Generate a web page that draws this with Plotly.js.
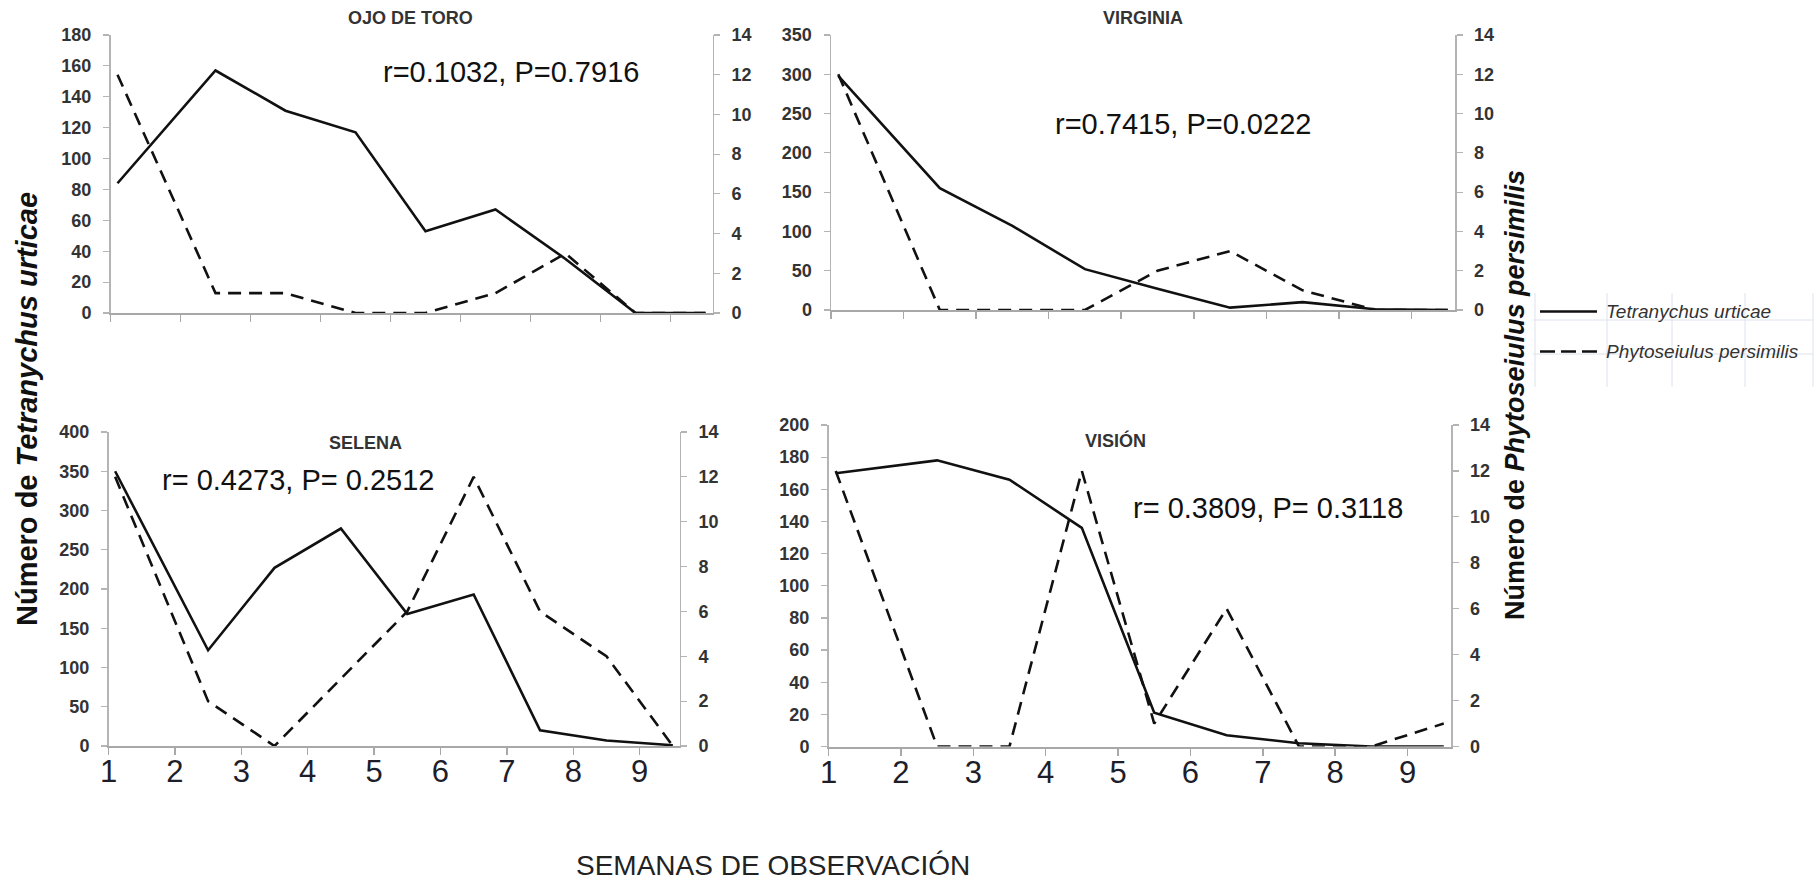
<!DOCTYPE html>
<html>
<head>
<meta charset="utf-8">
<script src="https://cdn.plot.ly/plotly-3.0.1.min.js"></script>
<style>
html,body{margin:0;padding:0;background:#fff;}
#chart{width:1820px;height:887px;}
</style>
</head>
<body>
<div id="chart"></div>
<script>
// ---- data ----
var semanaX = [1.1, 2.5, 3.5, 4.5, 5.5, 6.5, 7.5, 8.5, 9.5];
var tickVals = [1, 2, 3, 4, 5, 6, 7, 8, 9];
var tickText = ['1', '2', '3', '4', '5', '6', '7', '8', '9'];

var panelNames = ['OJO DE TORO', 'VIRGINIA', 'SELENA', 'VISIÓN'];
var statTexts = ['r=0.1032, P=0.7916', 'r=0.7415, P=0.0222', 'r= 0.4273, P= 0.2512', 'r= 0.3809, P= 0.3118'];

var ojoTetra = [84, 157, 131, 117, 53, 67, 35, 0, 0];
var ojoPhyto = [12, 1, 1, 0, 0, 1, 3, 0, 0];
var virTetra = [298, 155, 107, 52, 27, 3, 10, 1, 0];
var virPhyto = [12, 0, 0, 0, 2, 3, 1, 0, 0];
var selTetra = [350, 122, 227, 277, 168, 193, 20, 7, 1];
var selPhyto = [12, 2, 0, 3, 6, 12, 6, 4, 0];
var visTetra = [170, 178, 166, 136, 21, 7, 2, 0, 0];
var visPhyto = [12, 0, 0, 12, 1, 6, 0, 0, 1];

var leftMax = [180, 350, 400, 200];
var leftStep = [20, 50, 50, 20];
var rightMax = 14, rightStep = 2;

var seriesNames = ['Tetranychus urticae', 'Phytoseiulus persimilis'];

// ---- layout helpers ----
var W = 1820, H = 887;
function px(x) { return x / W; }
function py(y) { return 1 - y / H; }

// plot areas in pixels: [x0, x1, yTop, yBottom]
var boxes = [
  [110.5, 712.5, 35, 313],
  [831, 1455, 35, 310],
  [108.5, 679.5, 432, 746],
  [828.5, 1451, 425, 746.5]
];
var titlePos = [[410, 18], [1143, 18], [365, 443], [1115, 440]];
var statPos = [[511, 72], [1183, 124], [298, 480], [1268, 508]];

var tetraData = [ojoTetra, virTetra, selTetra, visTetra];
var phytoData = [ojoPhyto, virPhyto, selPhyto, visPhyto];

var FONT = 'Liberation Sans, Arial, sans-serif';
var axisColor = '#b4b4b4';
var tickLblFont = {family: FONT, size: 18, color: '#333', weight: 700};

var traces = [];
var layout = {
  width: W, height: H,
  margin: {l: 0, r: 0, t: 0, b: 0},
  paper_bgcolor: '#fff', plot_bgcolor: 'rgba(0,0,0,0)',
  showlegend: false,
  font: {family: FONT, color: '#222'},
  annotations: [], shapes: []
};

for (var i = 0; i < 4; i++) {
  var b = boxes[i];
  var xa = i === 0 ? 'x' : 'x' + (i + 1);
  var yl = 'y' + (2 * i + 1 === 1 ? '' : (2 * i + 1));
  var yr = 'y' + (2 * i + 2);
  var xKey = 'xaxis' + (i === 0 ? '' : (i + 1));
  var ylKey = 'yaxis' + (2 * i + 1 === 1 ? '' : (2 * i + 1));
  var yrKey = 'yaxis' + (2 * i + 2);
  var bottom = i >= 2;

  layout[xKey] = {
    domain: [px(b[0]), px(b[1])],
    anchor: yl,
    range: [1, 9.6],
    tickvals: tickVals, ticktext: tickText,
    ticks: 'outside', ticklen: 7, tickwidth: 1.5, tickcolor: '#a8a8a8',
    showticklabels: bottom,
    tickfont: {family: FONT, size: 31, color: '#1e1e2a'},
    ticklabelstandoff: -10,
    showline: true, linecolor: '#a8a8a8', linewidth: 2,
    showgrid: false, zeroline: false, layer: 'below traces', fixedrange: true
  };
  layout[ylKey] = {
    domain: [py(b[3]), py(b[2])],
    anchor: xa,
    range: [0, leftMax[i]], dtick: leftStep[i], tick0: 0,
    ticks: 'outside', ticklen: 6, tickwidth: 1.2, tickcolor: axisColor,
    tickfont: tickLblFont, ticklabelstandoff: 8,
    showline: true, linecolor: axisColor, linewidth: 1.5,
    showgrid: false, zeroline: false, layer: 'below traces', fixedrange: true
  };
  layout[yrKey] = {
    overlaying: yl, side: 'right', anchor: xa,
    range: [0, rightMax], dtick: rightStep, tick0: 0,
    ticks: 'outside', ticklen: 6, tickwidth: 1.2, tickcolor: axisColor,
    tickfont: tickLblFont, ticklabelstandoff: 8,
    showline: true, linecolor: axisColor, linewidth: 1.5,
    showgrid: false, zeroline: false, layer: 'below traces', fixedrange: true
  };

  traces.push({
    type: 'scatter', mode: 'lines', x: semanaX, y: tetraData[i],
    xaxis: xa, yaxis: yl, name: seriesNames[0], cliponaxis: false,
    line: {color: '#111', width: 2.6}
  });
  traces.push({
    type: 'scatter', mode: 'lines', x: semanaX, y: phytoData[i],
    xaxis: xa, yaxis: yr, name: seriesNames[1], cliponaxis: false,
    line: {color: '#111', width: 2.6, dash: '13px,8px'}
  });

  layout.annotations.push({
    text: '<b>' + panelNames[i] + '</b>', xref: 'paper', yref: 'paper',
    x: px(titlePos[i][0]), y: py(titlePos[i][1]), showarrow: false,
    xanchor: 'center', yanchor: 'middle',
    font: {family: FONT, size: 18, color: '#333'}
  });
  layout.annotations.push({
    text: statTexts[i], xref: 'paper', yref: 'paper',
    x: px(statPos[i][0]), y: py(statPos[i][1]), showarrow: false,
    xanchor: 'center', yanchor: 'middle',
    font: {family: FONT, size: 29, color: '#111'}
  });
}

// axis titles
layout.annotations.push({
  text: '<b>Número de <i>Tetranychus urticae</i></b>', xref: 'paper', yref: 'paper',
  x: px(27), y: py(409), textangle: -90, showarrow: false,
  xanchor: 'center', yanchor: 'middle',
  font: {family: FONT, size: 29, color: '#111'}
});
layout.annotations.push({
  text: '<b>Número de <i>Phytoseiulus persimilis</i></b>', xref: 'paper', yref: 'paper',
  x: px(1515), y: py(395), textangle: -90, showarrow: false,
  xanchor: 'center', yanchor: 'middle',
  font: {family: FONT, size: 27, color: '#111'}
});
layout.annotations.push({
  text: 'SEMANAS DE OBSERVACIÓN', xref: 'paper', yref: 'paper',
  x: px(773), y: py(865), showarrow: false,
  xanchor: 'center', yanchor: 'middle',
  font: {family: FONT, size: 28, color: '#222'}
});

// legend (faint table grid behind it)
var gridCol = '#dde2ec';
[1535, 1607, 1672, 1745, 1813].forEach(function (gx) {
  layout.shapes.push({type: 'line', xref: 'paper', yref: 'paper',
    x0: px(gx), x1: px(gx), y0: py(293), y1: py(387), line: {color: gridCol, width: 1}});
});
[320, 354].forEach(function (gy) {
  layout.shapes.push({type: 'line', xref: 'paper', yref: 'paper',
    x0: px(1533), x1: px(1813), y0: py(gy), y1: py(gy), line: {color: gridCol, width: 1}});
});
var legendY = [311.5, 351.5];
var legendDash = ['solid', '15px,6px'];
for (var k = 0; k < 2; k++) {
  layout.shapes.push({type: 'line', xref: 'paper', yref: 'paper',
    x0: px(1540), x1: px(1597), y0: py(legendY[k]), y1: py(legendY[k]),
    line: {color: '#111', width: 2.6, dash: legendDash[k]}});
  layout.annotations.push({
    text: '<i>' + seriesNames[k] + '</i>', xref: 'paper', yref: 'paper',
    x: px(1604), y: py(legendY[k]), showarrow: false,
    xanchor: 'left', yanchor: 'middle',
    font: {family: FONT, size: 19, color: '#333'}
  });
}

Plotly.newPlot('chart', traces, layout, {displayModeBar: false, staticPlot: true});
</script>
</body>
</html>
